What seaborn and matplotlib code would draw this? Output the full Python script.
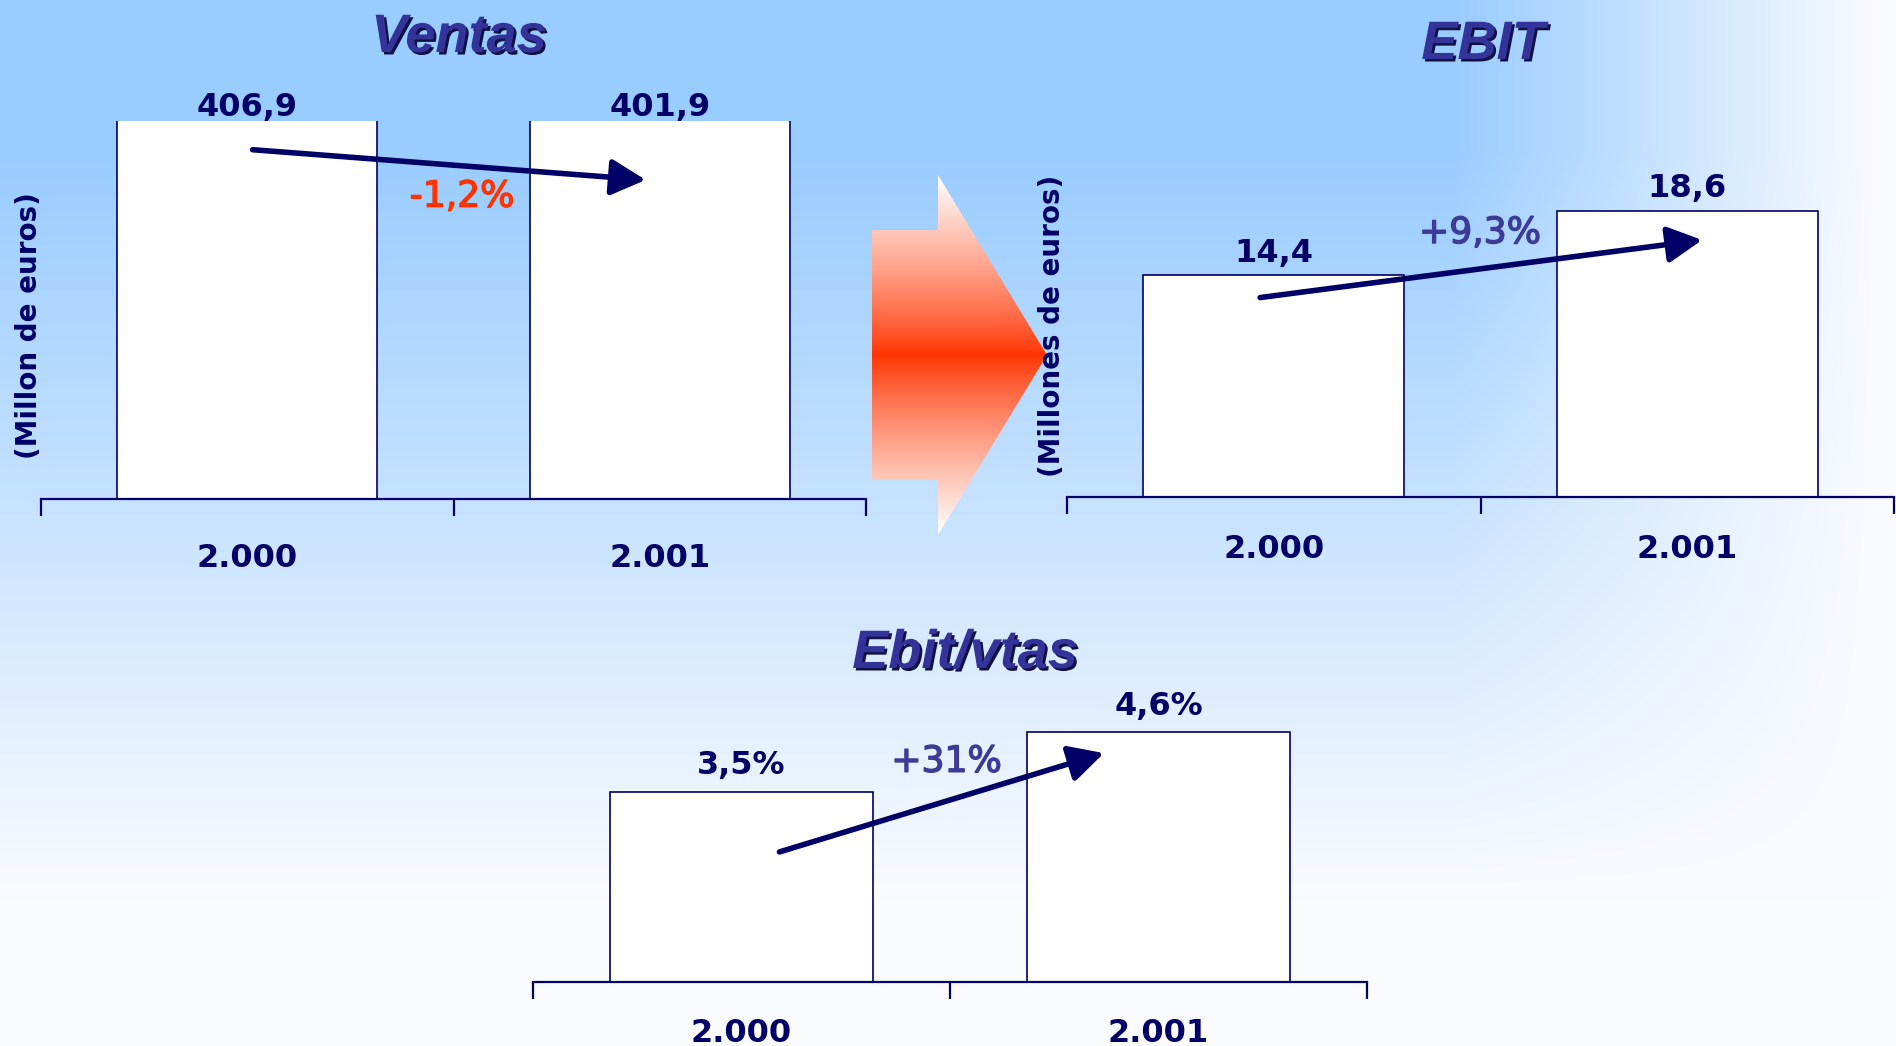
import numpy as np
import matplotlib
matplotlib.use('Agg')
import matplotlib.pyplot as plt
import seaborn as sns
from matplotlib import patheffects as pe
from matplotlib.patches import Polygon

sns.set_style('white')
plt.rcParams['font.family'] = ['DejaVu Sans']

# data
years = ['2.000', '2.001']
ventas = [406.9, 401.9]
ebit = [14.4, 18.6]
ebit_vtas = [3.5, 4.6]
ventas_labels = ['406,9', '401,9']
ebit_labels = ['14,4', '18,6']
ebit_vtas_labels = ['3,5%', '4,6%']
deltas = ['-1,2%', '+9,3%', '+31%']

navy = '#000066'
W, H = 1896, 1046
fig = plt.figure(figsize=(W / 100, H / 100), dpi=100)

# background gradient + big red arrow, drawn in pixel space
bg = fig.add_axes([0, 0, 1, 1])
xx, yy = np.meshgrid(np.arange(W), np.arange(H))
ty = np.clip((yy - 150) / 750, 0, 1)
tx = np.clip((xx - 1450) / 430, 0, 1)
t = 1 - (1 - tx) * (1 - ty)
blue = np.array([153, 204, 255]) / 255
white = np.array([250, 251, 255]) / 255
bg.imshow(blue * (1 - t[..., None]) + white * t[..., None],
          extent=(0, W, H, 0), aspect='auto', interpolation='bilinear')

shape = [(872, 230), (938, 230), (938, 175), (1047, 355),
         (938, 535), (938, 480), (872, 480)]
patch = Polygon(shape, closed=True, fc='none', ec='none')
bg.add_patch(patch)
gy = np.arange(175, 536)
s = (np.abs(gy - 355) / 180.0) ** 0.85
red = np.array([255, 51, 0]) / 255
grad = red * (1 - s[:, None]) + np.array([1.0, 1.0, 1.0]) * s[:, None]
im = bg.imshow(grad[:, None, :], extent=(872, 1047, 535, 175), aspect='auto')
im.set_clip_path(patch)
bg.set_xlim(0, W)
bg.set_ylim(H, 0)
bg.axis('off')


def panel(left, top, right, bottom):
    ax = fig.add_axes([left / W, 1 - bottom / H, (right - left) / W, (bottom - top) / H])
    ax.set_facecolor('none')
    return ax


def draw_bars(ax, values, labels, ytop, pad, tickpad):
    sns.barplot(x=years, y=values, ax=ax, color='white', saturation=1,
                width=0.63, edgecolor=navy, linewidth=1.2)
    ax.set_xlim(-0.5, 1.5)
    ax.set_ylim(0, ytop)
    for i, (v, lbl) in enumerate(zip(values, labels)):
        ax.annotate(lbl, (i, min(v, ytop)), xytext=(0, pad), textcoords='offset points',
                    ha='center', va='bottom', fontsize=23, fontweight='bold',
                    color=navy, annotation_clip=False)
    sns.despine(ax=ax, left=True)
    ax.spines['bottom'].set_color(navy)
    ax.spines['bottom'].set_linewidth(1.6)
    ax.set_yticks([])
    ax.set_xlabel('')
    ax.set_ylabel('')
    ax.set_xticks([-0.5, 0.5, 1.5], minor=True)
    ax.tick_params(axis='x', which='major', length=0, pad=tickpad,
                   labelsize=23, labelcolor=navy)
    ax.tick_params(axis='x', which='minor', bottom=True, length=12, width=1.6,
                   color=navy, direction='out')
    for tl in ax.get_xticklabels():
        tl.set_fontweight('bold')


def arrow(ax, start, end):
    ax.annotate('', xy=end, xytext=start,
                arrowprops=dict(arrowstyle='-|>,head_length=1.05,head_width=0.55',
                                mutation_scale=20, lw=4, color=navy,
                                shrinkA=0, shrinkB=0))


def delta(ax, x, y, txt, color):
    ax.text(x, y, txt, ha='center', va='center', fontsize=26, color=color,
            path_effects=[pe.withStroke(linewidth=1.0, foreground=color)])


def title(x, y, txt):
    fig.text(x / W, 1 - y / H, txt, ha='center', va='baseline', fontsize=39,
             fontweight='bold', fontstyle='italic',
             family=['Liberation Sans', 'DejaVu Sans'], color='#333399',
             path_effects=[pe.SimplePatchShadow(offset=(1.8, -1.8),
                                                shadow_rgbFace='#111144', alpha=1),
                           pe.Normal()])


# Ventas
ax1 = panel(41, 121, 866, 498.7)
draw_bars(ax1, ventas, ventas_labels, 400, -1.5, 32)
ax1.set_ylabel('(Millon de euros)', fontsize=20, fontweight='bold', color=navy, va='center')
ax1.yaxis.set_label_coords(-0.0149, 0.458)
arrow(ax1, (0.013, 369.6), (0.966, 337.6))
delta(ax1, 0.521, 319.8, deltas[0], '#FF3300')

# EBIT
ax2 = panel(1067, 150.5, 1894, 497)
draw_bars(ax2, ebit, ebit_labels, 22.5, 4.7, 27)
ax2.set_ylabel('(Millones de euros)', fontsize=20, fontweight='bold', color=navy, va='center')
ax2.yaxis.set_label_coords(-0.0181, 0.4935)
arrow(ax2, (-0.033, 12.95), (1.036, 16.69))
delta(ax2, 0.499, 17.14, deltas[1], '#3C3C96')

# Ebit/vtas
ax3 = panel(533, 688.5, 1367, 981.7)
draw_bars(ax3, ebit_vtas, ebit_vtas_labels, 5.4, 7.5, 26)
arrow(ax3, (0.091, 2.39), (0.869, 4.21))
delta(ax3, 0.492, 4.05, deltas[2], '#3C3C96')

title(459, 52, 'Ventas')
title(1483, 59, 'EBIT')
title(965, 668, 'Ebit/vtas')

fig.savefig('out.png', dpi=100)
